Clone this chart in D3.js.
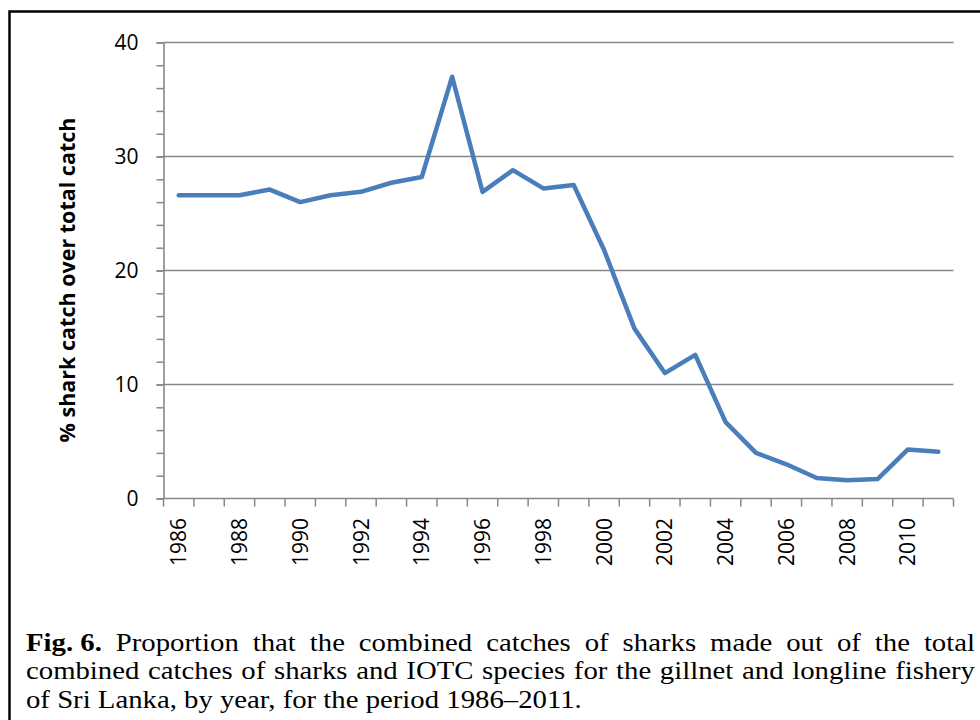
<!DOCTYPE html>
<html>
<head>
<meta charset="utf-8">
<script src="https://cdn.jsdelivr.net/npm/d3@7"></script>
<style>
  body { margin: 0; background: #fff; }
  svg { display: block; }
</style>
</head>
<body>
<div id="chart"></div>
<script>
// data (% shark catch over total catch)
const years = d3.range(1986, 2012);
const shares = [26.6, 26.6, 26.6, 27.1, 26.0, 26.6, 26.9, 27.7, 28.2, 37.0,
                26.9, 28.8, 27.2, 27.5, 21.8, 14.9, 11.0, 12.6, 6.7, 4.0,
                3.0, 1.8, 1.6, 1.7, 4.3, 4.1];
const yTicks = [0, 10, 20, 30, 40];
const yTitle = '% shark catch over total catch';
const captionBold = 'Fig. 6.';
const captionLines = [
  'Proportion that the combined catches of sharks made out of the total',
  'combined catches of sharks and IOTC species for the gillnet and longline fishery',
  'of Sri Lanka, by year, for the period 1986\u20132011.'
];

const W = 980, H = 720;
const axisGrey = '#878787';

const svg = d3.select('#chart').append('svg')
  .attr('width', W)
  .attr('height', H);

// frame round the figure (right and bottom are cut off)
svg.append('path')
  .attr('d', 'M9.5,720 V11.5 H980')
  .attr('fill', 'none')
  .attr('stroke', '#000')
  .attr('stroke-width', 2.5);

const x = d3.scaleBand()
  .domain(years)
  .range([163.5, 953.5]);

const y = d3.scaleLinear()
  .domain([0, 40])
  .range([498.5, 42.5]);

// gridlines
svg.append('g')
  .selectAll('line')
  .data(yTicks.filter(d => d > 0))
  .join('line')
  .attr('x1', x.range()[0])
  .attr('x2', x.range()[1])
  .attr('y1', d => y(d))
  .attr('y2', d => y(d))
  .attr('stroke', axisGrey)
  .attr('stroke-width', 1.6);

// y axis, minor ticks every 2
const yMinor = svg.append('g')
  .attr('transform', `translate(${x.range()[0]},0)`)
  .call(d3.axisLeft(y).tickValues(d3.range(0, 41, 2)).tickSize(7).tickFormat(''));
yMinor.select('.domain').remove();
yMinor.selectAll('line').attr('stroke', axisGrey).attr('stroke-width', 1.5);

const yAxis = svg.append('g')
  .attr('transform', `translate(${x.range()[0]},0)`)
  .call(d3.axisLeft(y).tickValues(yTicks).tickSize(7).tickPadding(18).tickSizeOuter(0));
yAxis.select('.domain').attr('stroke', axisGrey).attr('stroke-width', 1.6);
yAxis.selectAll('line').attr('stroke', axisGrey).attr('stroke-width', 1.5);
yAxis.selectAll('text')
  .attr('font-family', "'Open Sans', sans-serif")
  .attr('font-size', 21)
  .attr('fill', '#000');

// x axis: ticks between categories
svg.append('line')
  .attr('x1', x.range()[0])
  .attr('x2', x.range()[1])
  .attr('y1', y(0))
  .attr('y2', y(0))
  .attr('stroke', axisGrey)
  .attr('stroke-width', 1.6);

svg.append('g')
  .selectAll('line')
  .data(years.map(d => x(d)).concat([x.range()[1]]))
  .join('line')
  .attr('x1', d => d)
  .attr('x2', d => d)
  .attr('y1', y(0))
  .attr('y2', y(0) + 8)
  .attr('stroke', axisGrey)
  .attr('stroke-width', 1.5);

svg.append('g')
  .selectAll('text')
  .data(years.filter(d => d % 2 === 0))
  .join('text')
  .attr('transform', d => `translate(${x(d) + x.bandwidth() / 2},518) rotate(-90)`)
  .attr('text-anchor', 'end')
  .attr('dy', '0.36em')
  .attr('font-family', "'Open Sans', sans-serif")
  .attr('font-size', 21)
  .text(d => d);

// y axis title
svg.append('text')
  .attr('transform', 'translate(67,280) rotate(-90)')
  .attr('text-anchor', 'middle')
  .attr('dy', '0.35em')
  .attr('font-family', "'Open Sans', sans-serif")
  .attr('font-weight', 'bold')
  .attr('font-size', 21.5)
  .text(yTitle);

// the series
const line = d3.line()
  .x((d, i) => x(years[i]) + x.bandwidth() / 2)
  .y(d => y(d));

svg.append('path')
  .datum(shares)
  .attr('d', line)
  .attr('fill', 'none')
  .attr('stroke', '#4a7ebb')
  .attr('stroke-width', 4.5)
  .attr('stroke-linejoin', 'round')
  .attr('stroke-linecap', 'round');

// caption, justified like the journal page; the scan's type is a bit wide
const capLeft = 26, capRight = 975, capStretch = 1.15;
const baselines = [651, 679.5, 708];

const cap = svg.append('g')
  .attr('transform', `translate(${capLeft},0) scale(${capStretch},1)`)
  .attr('font-family', "'Liberation Serif', 'Times New Roman', serif")
  .attr('font-size', 25)
  .attr('fill', '#000');

function wordWidth(txt, bold) {
  const t = cap.append('text').attr('font-weight', bold ? 'bold' : null).text(txt);
  const w = t.node().getComputedTextLength();
  t.remove();
  return w;
}

const avail = (capRight - capLeft) / capStretch;
const space = wordWidth('a a', false) - 2 * wordWidth('a', false);

captionLines.forEach((ln, i) => {
  const words = ln.split(' ').map(w => ({txt: w, bold: false}));
  if (i === 0) words.unshift({txt: captionBold, bold: true});
  words.forEach(w => { w.w = wordWidth(w.txt, w.bold); });
  const total = d3.sum(words, w => w.w);
  const justify = i < captionLines.length - 1;
  const gap = justify ? (avail - total) / (words.length - 1) : space;
  let cx = 0;
  words.forEach(w => {
    cap.append('text')
      .attr('x', cx)
      .attr('y', baselines[i])
      .attr('font-weight', w.bold ? 'bold' : null)
      .text(w.txt);
    cx += w.w + gap;
  });
});
</script>
</body>
</html>
